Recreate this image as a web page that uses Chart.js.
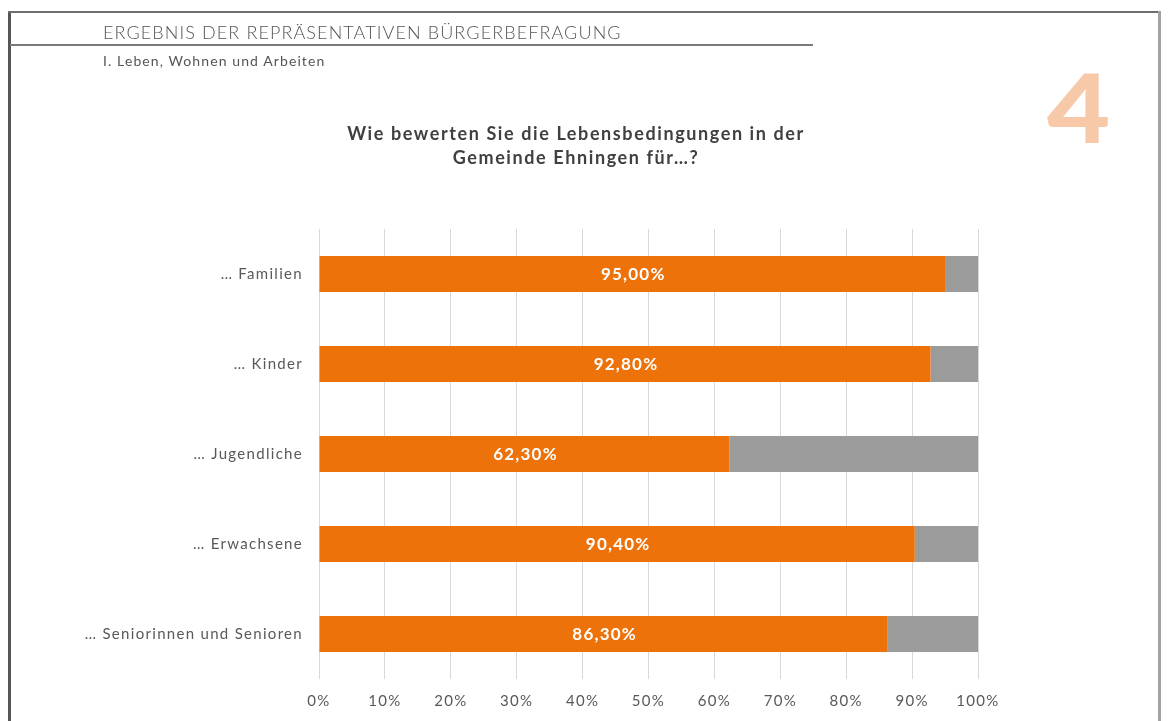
<!DOCTYPE html>
<html><head><meta charset="utf-8">
<script src="https://cdn.jsdelivr.net/npm/chart.js@4.4.1/dist/chart.umd.min.js"></script>
<style>
html,body{margin:0;padding:0;background:#fff;width:1169px;height:721px;overflow:hidden;font-family:Lato,"Open Sans",sans-serif;}
#wrap{position:relative;width:1169px;height:721px;}
.abs{position:absolute;}
#bl{left:8px;top:11px;width:3px;height:720px;background:#555;}
#bt{left:8px;top:11px;width:1153px;height:2px;background:#6e6e6e;}
#br{left:1158px;top:11px;width:3px;height:720px;background:#a3a3a3;}
#ul{left:10px;top:44px;width:803px;height:2px;background:#7a7a7a;}
#h1{left:103px;top:21px;font-size:18px;font-weight:300;color:#555;white-space:nowrap;letter-spacing:1.1px;}
#h2{left:103px;top:52px;font-size:14px;color:#555;white-space:nowrap;letter-spacing:1.1px;}
#four{left:1047px;top:59px;font-size:95px;font-weight:900;color:#f8c9a8;line-height:1;transform:scaleX(1.15);transform-origin:left top;}
#title{left:226px;width:700px;top:121px;text-align:center;font-size:18px;font-weight:700;color:#404040;line-height:24px;letter-spacing:1.6px;}
canvas{position:absolute;left:0;top:0;}
</style></head>
<body><div id="wrap">
<canvas id="c" width="1169" height="721"></canvas>
<div class="abs" id="bl"></div><div class="abs" id="bt"></div><div class="abs" id="br"></div>
<div class="abs" id="ul"></div>
<div class="abs" id="h1">ERGEBNIS DER REPRÄSENTATIVEN BÜRGERBEFRAGUNG</div>
<div class="abs" id="h2">I. Leben, Wohnen und Arbeiten</div>
<div class="abs" id="four">4</div>
<div class="abs" id="title">Wie bewerten Sie die Lebensbedingungen in der<br>Gemeinde Ehningen für…?</div>
</div>
<script>
const categories = ["… Familien", "… Kinder", "… Jugendliche", "… Erwachsene", "… Seniorinnen und Senioren"];
const positiveValues = [95.0, 92.8, 62.3, 90.4, 86.3];
const restValues = [5.0, 7.2, 37.7, 9.6, 13.7];
const xTicks = [0, 10, 20, 30, 40, 50, 60, 70, 80, 90, 100];

const spacingPlugin = {
  id: 'spacing',
  beforeDraw(chart) { chart.ctx.letterSpacing = '1.3px'; }
};

const labelPlugin = {
  id: 'barLabels',
  afterDatasetsDraw(chart) {
    const ctx = chart.ctx;
    const meta = chart.getDatasetMeta(0);
    ctx.save();
    ctx.letterSpacing = '1.2px';
    ctx.font = 'bold 17px Lato, "Open Sans", sans-serif';
    ctx.fillStyle = '#ffffff';
    ctx.textAlign = 'center';
    ctx.textBaseline = 'middle';
    meta.data.forEach((el, i) => {
      const v = chart.data.datasets[0].data[i];
      const cx = (el.x + el.base) / 2;
      ctx.fillText(v.toFixed(2).replace('.', ',') + '%', cx + 1, el.y + 1);
    });
    ctx.restore();
  }
};

new Chart(document.getElementById('c'), {
  type: 'bar',
  data: {
    labels: categories,
    datasets: [
      { data: positiveValues, backgroundColor: '#ed7209', borderWidth: 0, barPercentage: 0.4, categoryPercentage: 1 },
      { data: restValues, backgroundColor: '#9b9b9b', borderWidth: 0, barPercentage: 0.4, categoryPercentage: 1 }
    ]
  },
  options: {
    indexAxis: 'y',
    responsive: false,
    animation: false,
    devicePixelRatio: 1,
    layout: { padding: { left: 0, right: 191, top: 229, bottom: 0 } },
    plugins: { legend: { display: false }, tooltip: { enabled: false }, title: { display: false } },
    scales: {
      x: {
        stacked: true, min: 0, max: 100,
        afterBuildTicks(s) { s.ticks = xTicks.map(v => ({ value: v })); },
        afterFit(s) { s.height = 42; },
        grid: { color: '#d9d9d9', lineWidth: 1, drawTicks: false },
        border: { display: false },
        ticks: { padding: 13, color: '#595959', font: { family: 'Lato, "Open Sans", sans-serif', size: 15 }, callback: v => v + '%' }
      },
      y: {
        stacked: true,
        afterFit(s) { s.width = 319; },
        grid: { display: false, drawTicks: false },
        border: { display: false },
        ticks: { padding: 16, color: '#595959', font: { family: 'Lato, "Open Sans", sans-serif', size: 15 } }
      }
    }
  },
  plugins: [spacingPlugin, labelPlugin]
});
</script>
</body></html>
